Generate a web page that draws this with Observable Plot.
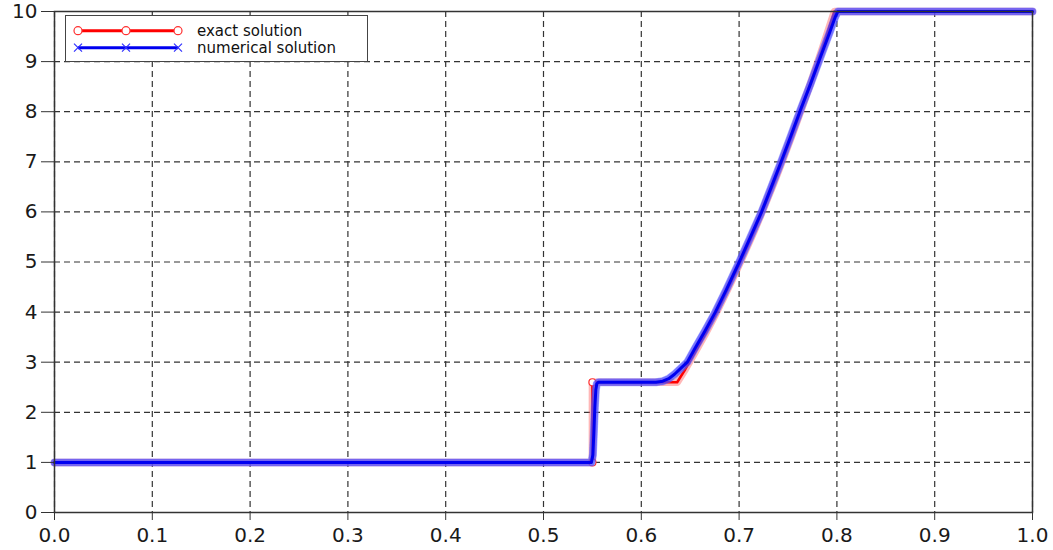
<!DOCTYPE html>
<html><head><meta charset="utf-8">
<script src="https://cdn.jsdelivr.net/npm/d3@7"></script>
<script src="https://cdn.jsdelivr.net/npm/@observablehq/plot@0.6"></script>
<style>
body{margin:0;background:#fff;}
#wrap{position:relative;width:1053px;height:550px;}
#wrap svg{display:block;}
#legend{position:absolute;left:0;top:0;}
</style></head><body>
<div id="wrap"></div>
<script>
// tick values
const xTicks = [0, 0.1, 0.2, 0.3, 0.4, 0.5, 0.6, 0.7, 0.8, 0.9, 1.0];
const yTicks = [0, 1, 2, 3, 4, 5, 6, 7, 8, 9, 10];

// series names
const seriesNames = ["exact solution", "numerical solution"];

// exact solution
const exactX = [0, 0.5500, 0.5500, 0.6367, 0.645, 0.655, 0.665, 0.675, 0.685, 0.695, 0.705, 0.715, 0.725, 0.735, 0.745, 0.755, 0.765, 0.775, 0.785, 0.7975, 1.0];
const exactY = [1, 1, 2.60, 2.60, 2.86, 3.20, 3.55, 3.92, 4.32, 4.73, 5.16, 5.60, 6.07, 6.55, 7.06, 7.58, 8.12, 8.68, 9.25, 10, 10];

// numerical solution
const numX = [0, 0.549, 0.5505, 0.5515, 0.5525, 0.5535, 0.5545, 0.556, 0.600, 0.615, 0.622, 0.628, 0.634, 0.640, 0.647, 0.655, 0.665, 0.6757, 0.687, 0.699, 0.711, 0.723, 0.733, 0.743, 0.753, 0.763, 0.773, 0.783, 0.792, 0.7985, 0.801, 1.0];
const numY = [1, 1.0, 1.15, 1.6, 2.1, 2.45, 2.57, 2.6, 2.6, 2.6, 2.62, 2.67, 2.76, 2.87, 3.0, 3.28, 3.62, 4.0, 4.45, 4.95, 5.47, 6.0, 6.5, 7.0, 7.52, 8.05, 8.55, 9.08, 9.55, 9.9, 10, 10];

const exact = exactX.map((x, i) => ({x, y: exactY[i]}));
const num = numX.map((x, i) => ({x, y: numY[i]}));
const jumpPts = exact.filter(d => d.x === 0.55);

const chart = Plot.plot({
  width: 1053, height: 550,
  marginLeft: 54, marginRight: 21, marginTop: 11, marginBottom: 38,
  x: {domain: [0, 1]},
  y: {domain: [0, 10]},
  style: {fontFamily: "DejaVu Sans", fontSize: "20px", color: "#1a1a1a", background: "#fff", overflow: "visible"},
  marks: [
    Plot.ruleX(xTicks, {stroke: "#333", strokeWidth: 1.2, strokeDasharray: "6,4"}),
    Plot.ruleY(yTicks, {stroke: "#333", strokeWidth: 1.2, strokeDasharray: "6,4"}),
    Plot.line(exact, {x: "x", y: "y", stroke: "#ff6060", strokeWidth: 7.5, strokeOpacity: 0.45}),
    Plot.line(exact, {x: "x", y: "y", stroke: "#ff0000", strokeWidth: 2.5}),
    Plot.dot(jumpPts, {x: "x", y: "y", r: 3.5, stroke: "#ff3030", strokeWidth: 1.2, fill: "#fff"}),
    Plot.line(num, {x: "x", y: "y", stroke: "#7070ff", strokeWidth: 8, strokeOpacity: 0.55}),
    Plot.line(num, {x: "x", y: "y", stroke: "#3a3aff", strokeWidth: 7, strokeOpacity: 0.5, strokeDasharray: "1.2,1.4"}),
    Plot.line(num, {x: "x", y: "y", stroke: "#0000f0", strokeWidth: 3}),
    Plot.frame({stroke: "#333", strokeWidth: 1.5}),
    Plot.axisX({ticks: xTicks, tickSize: 8, tickPadding: 7, tickFormat: d3.format(".1f"), label: null, stroke: "#333"}),
    Plot.axisY({ticks: yTicks, tickSize: 13, tickPadding: 4, label: null, stroke: "#333"})
  ]
});
document.getElementById("wrap").appendChild(chart);

// legend overlay (inside plot frame, top-left)
const lg = d3.select("#wrap").append("svg").attr("id", "legend")
  .attr("width", 1053).attr("height", 80);
lg.append("rect").attr("x", 65.5).attr("y", 15.5).attr("width", 302).attr("height", 46)
  .attr("fill", "#fff").attr("stroke", "#444").attr("stroke-width", 1);
const rows = [
  {name: seriesNames[0], color: "#ff0000", y: 30.7, marker: "circle"},
  {name: seriesNames[1], color: "#0000f0", y: 47.7, marker: "cross"}
];
rows.forEach(r => {
  lg.append("line").attr("x1", 78).attr("x2", 178).attr("y1", r.y).attr("y2", r.y)
    .attr("stroke", r.color).attr("stroke-width", 3);
  [78, 126, 178].forEach(mx => {
    if (r.marker === "circle") {
      lg.append("circle").attr("cx", mx).attr("cy", r.y).attr("r", 4)
        .attr("fill", "#fff").attr("stroke", "#ff3030").attr("stroke-width", 1.2);
    } else {
      lg.append("path").attr("d", `M${mx-4},${r.y-4}L${mx+4},${r.y+4}M${mx-4},${r.y+4}L${mx+4},${r.y-4}`)
        .attr("stroke", "#3030ff").attr("stroke-width", 1.2);
    }
  });
  lg.append("text").attr("x", 197).attr("y", r.y + 5.5).text(r.name)
    .attr("font-family", "DejaVu Sans").attr("font-size", 15).attr("fill", "#111");
});
</script>
</body></html>
